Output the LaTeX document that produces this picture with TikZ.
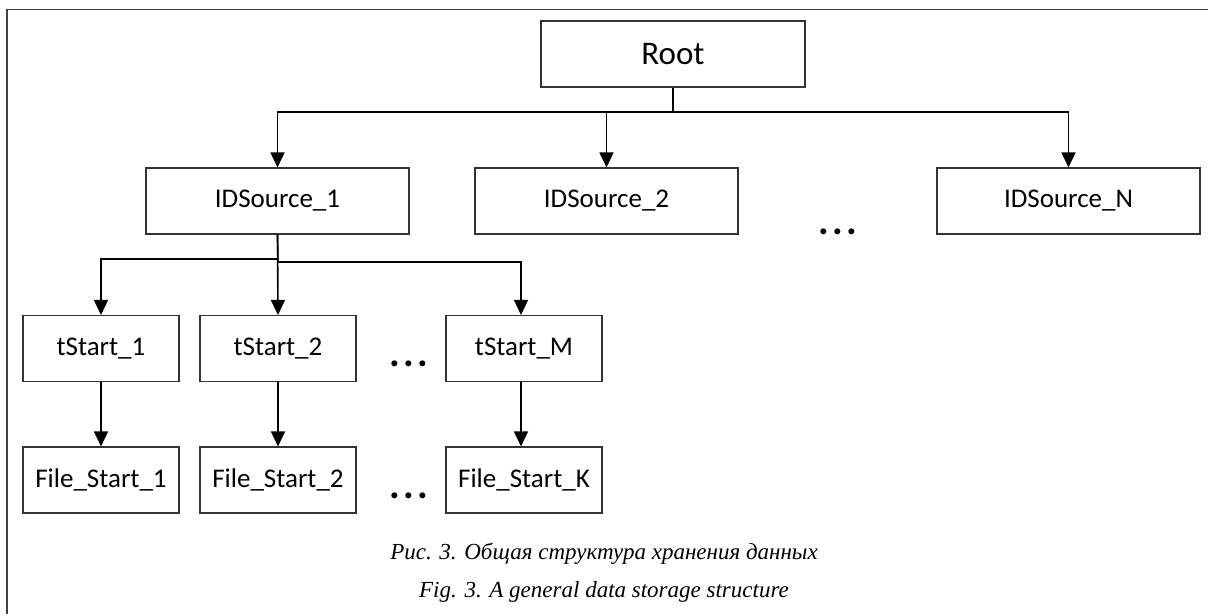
\documentclass[tikz,border=0pt]{standalone}
\usepackage{fontspec}
\setmainfont{Carlito}
\newfontfamily\capfont{Liberation Serif}
\usetikzlibrary{arrows.meta}
\newcommand{\gapdots}{.\hspace{3.3pt}.\hspace{3.3pt}.}
\begin{document}
\begin{tikzpicture}[x=1pt,y=-1pt,
  box/.style={draw=black!80,line width=1.1pt,rectangle,inner sep=0pt,
    minimum height=66pt,font=\fontsize{27}{32}\selectfont},
  wide/.style={box,minimum width=263pt},
  narrow/.style={box,minimum width=156pt},
  arr/.style={line width=1.6pt,-{Triangle[length=15pt,width=14pt]}},
  link/.style={line width=1.6pt},
  dots/.style={inner sep=0pt,anchor=base,font=\fontsize{40}{44}\selectfont\bfseries},
  caption/.style={inner sep=0pt,anchor=base,font=\capfont\itshape\fontsize{23}{27}\selectfont}]
\useasboundingbox (0,0) rectangle (1208,614);
% outer frame (open on the right and at the bottom)
\draw[black!75,line width=1.8pt] (7,614) -- (7,9.5) -- (1208,9.5);

% level 0
\node[wide,minimum width=264pt,font=\fontsize{33}{38}\selectfont] (root) at (673,54) {Root};
% level 1
\node[wide] (s1) at (277.5,201) {IDSource\_1};
\node[wide] (s2) at (606.5,201) {IDSource\_2};
\node[wide] (sN) at (1068.5,201) {IDSource\_N};
\node[dots] (d1) at (838,234) {\gapdots};
% level 2
\node[narrow] (t1) at (101,348.5) {tStart\_1};
\node[narrow] (t2) at (278,348.5) {tStart\_2};
\node[narrow] (tM) at (524,348.5) {tStart\_M};
\node[dots] (d2) at (409,366) {\gapdots};
% level 3
\node[narrow] (f1) at (101,480) {File\_Start\_1};
\node[narrow] (f2) at (278,480) {File\_Start\_2};
\node[narrow] (fK) at (524,480) {File\_Start\_K};
\node[dots] (d3) at (409,498) {\gapdots};

% connectors
\coordinate (rj) at (673,112);
\draw[link] (root.south) -- (rj);
\draw[arr] (rj) -| (s1.north);
\draw[arr] (rj) -| (s2.north);
\draw[arr] (rj) -| (sN.north);

\coordinate (sjl) at (278,259);
\coordinate (sjr) at (278,262);
\draw[link] (s1.south) -- (sjr);
\draw[arr] (sjl) -| (t1.north);
\draw[arr] (s1.south) -- (t2.north);
\draw[arr] (sjr) -| ([xshift=-3pt]tM.north);

\draw[arr] (t1.south) -- (f1.north);
\draw[arr] (t2.south) -- (f2.north);
\draw[arr] ([xshift=-3pt]tM.south) -- ([xshift=-3pt]fK.north);

% captions
\node[caption] (c1) at (604,559) {Рис. 3. Общая структура хранения данных};
\node[caption] (c2) at (604,597) {Fig. 3. A general data storage structure};
\end{tikzpicture}
\end{document}
